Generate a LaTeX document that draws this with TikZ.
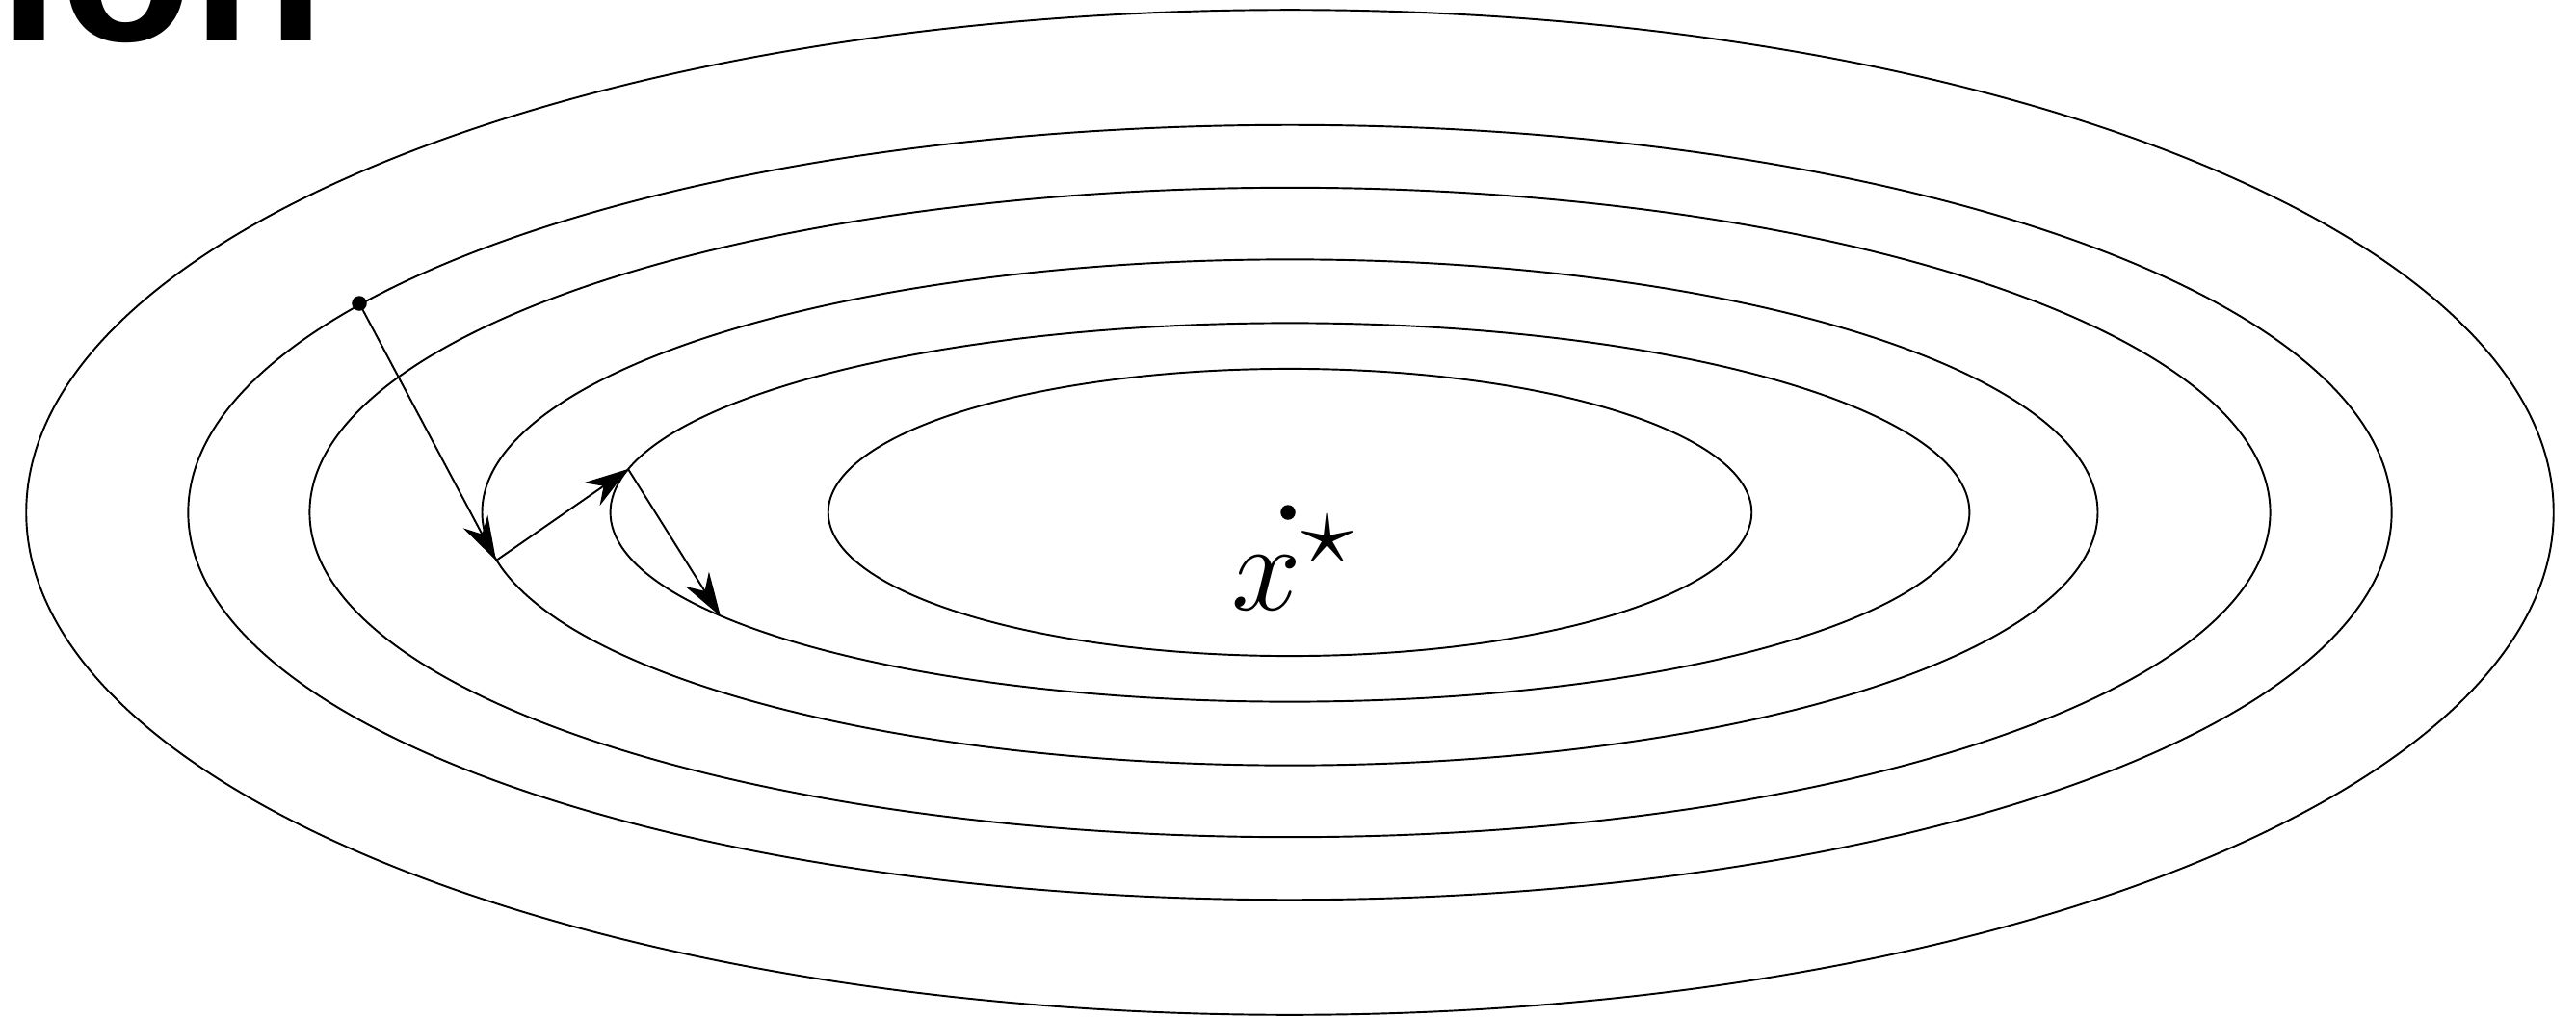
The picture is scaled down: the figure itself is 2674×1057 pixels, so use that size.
\documentclass[tikz,border=0pt]{standalone}
\usepackage{graphicx}
\usepackage{fontspec}
\newfontfamily\titlefont{Liberation Sans}
\usetikzlibrary{arrows.meta}
\begin{document}
\begin{tikzpicture}[x=0.01cm,y=-0.01cm,line width=0.55pt,
  contour/.style={draw=black,line width=0.55pt},
  stepedge/.style={draw=black,line width=0.55pt,-{Stealth[length=13pt,width=8.2pt,inset=4.2pt]}},
  dotnode/.style={circle,fill=black,inner sep=0pt,minimum size=0.155cm}]
\useasboundingbox (0,0) rectangle (2674,1057);
\begin{scope}
\clip (0,0) rectangle (2674,1057);
\node[anchor=base east,inner sep=0pt,font=\titlefont\bfseries\fontsize{64}{70}\selectfont] (title) at (338,42) {tion};
\end{scope}
\coordinate (c) at (1339,532);
\draw[contour] (c) ellipse [x radius=13.11cm, y radius=5.215cm];
\draw[contour] (c) ellipse [x radius=11.43cm, y radius=4.02cm];
\draw[contour] (c) ellipse [x radius=10.17cm, y radius=3.37cm];
\draw[contour] (c) ellipse [x radius=8.38cm, y radius=2.625cm];
\draw[contour] (c) ellipse [x radius=7.05cm, y radius=1.965cm];
\draw[contour] (c) ellipse [x radius=4.79cm, y radius=1.49cm];
\node[dotnode] (xstar) at (1337,532) {};
\node[anchor=base west,inner sep=0pt,font=\fontsize{24.88}{28}\selectfont] (lbl) at (1278,633) {\scalebox{1.49}{$x^\star$}};
\node[dotnode] (p0) at (373,315) {};
\coordinate (p1) at (515,582);
\coordinate (p2) at (652,487);
\coordinate (p3) at (748,640);
\draw[stepedge] (p0.center) -- (p1);
\draw[stepedge] (p1) -- (p2);
\draw[stepedge] (p2) -- (p3);
\end{tikzpicture}
\end{document}
